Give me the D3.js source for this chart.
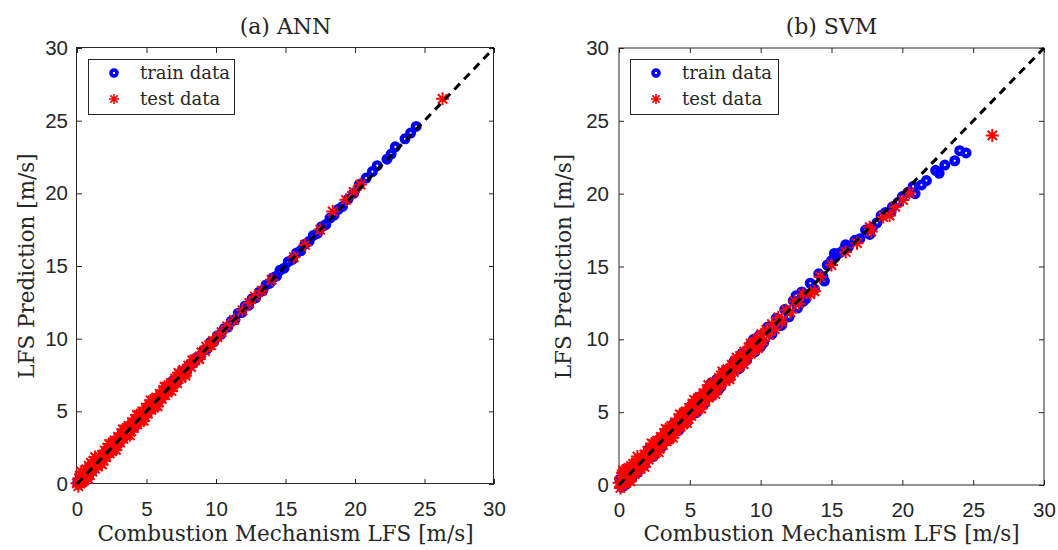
<!DOCTYPE html>
<html>
<head>
<meta charset="utf-8">
<script src="https://cdn.jsdelivr.net/npm/d3@7"></script>
<style>
  body { margin: 0; background: #fff; }
  .tick text { font-family: "Liberation Sans", Arial, sans-serif; font-size: 20.5px; fill: #262626; }
  .tick line { stroke: #262626; }
  .serif { font-family: "DejaVu Serif", serif; fill: #262626; }
</style>
</head>
<body>
<div id="chart"></div>
<script>
// tick values shared by both axes
var ticks = [0, 5, 10, 15, 20, 25, 30];
var panelTitles = ["(a) ANN", "(b) SVM"];
var legendLabels = ["train data", "test data"];

// ANN panel: [target, prediction]
var annTrain = [
  [0.05,0.1],[0.2,0.35],[0.35,0.1],[0.5,0.7],[0.7,0.45],[0.9,1.2],[1.1,0.9],[1.3,1.6],[1.5,1.3],[1.8,1.9],
  [2.1,2.3],[2.4,2.2],[2.7,2.9],[3.0,2.8],[3.3,3.5],[3.6,3.5],[3.9,4.1],[4.2,4.0],[4.5,4.7],[4.8,4.7],
  [5.1,5.3],[5.4,5.2],[5.7,5.9],[6.0,5.85],[6.3,6.5],[6.6,6.45],[6.9,7.1],[7.2,7.05],[7.5,7.7],[7.8,7.7],
  [8.1,8.2],[8.35,8.3],[8.6,8.7],[8.85,8.8],[9.1,9.2],[9.35,9.3],[9.6,9.75],[9.85,9.8],[10.1,10.2],[10.35,10.3],
  [10.6,10.7],[10.85,10.8],[11.1,11.2],[11.35,11.3],[11.6,11.75],[11.85,11.8],[12.1,12.25],[12.35,12.3],[12.6,12.75],[12.85,12.8],
  [13.1,13.2],[13.35,13.3],[13.6,13.7],[13.85,13.8],[14.1,14.2],[14.35,14.3],[14.6,14.7],[14.9,14.85],[15.2,15.3],[15.5,15.45],
  [15.8,15.9],[16.1,16.05],[16.4,16.5],[16.7,16.7],[17.0,17.1],[17.3,17.25],[17.6,17.7],[17.9,17.85],[18.2,18.3],[18.5,18.5],
  [18.8,18.9],[19.1,19.1],[19.5,19.6],[19.9,20.0],[20.3,20.6],[20.8,21.05],[21.25,21.5],[21.6,21.9],[22.3,22.35],[22.6,22.7],
  [22.9,23.2],[23.6,23.75],[24.0,24.15],[24.4,24.6]
];
var annTest = [
  [0.0,0.05],[0.1,-0.15],[0.15,0.4],[0.25,0.05],[0.3,0.6],[0.4,0.15],[0.5,0.75],[0.55,0.3],[0.65,1.0],[0.75,0.5],
  [0.85,1.25],[0.9,0.65],[1.0,1.45],[1.1,0.85],[1.2,1.6],[1.3,1.05],[1.4,1.75],[1.5,1.2],[1.6,1.85],[1.7,1.4],
  [1.8,2.0],[1.9,1.6],[2.0,2.3],[2.1,1.85],[2.2,2.5],[2.35,2.1],[2.45,2.75],[2.6,2.35],[2.7,3.0],[2.85,2.6],
  [2.95,3.25],[3.1,2.85],[3.2,3.5],[3.35,3.1],[3.45,3.75],[3.6,3.35],[3.7,4.0],[3.85,3.6],[3.95,4.25],[4.1,3.85],
  [4.2,4.5],[4.35,4.1],[4.45,4.75],[4.6,4.35],[4.7,5.0],[4.85,4.6],[4.95,5.25],[5.1,4.85],[5.2,5.5],[5.35,5.1],
  [5.45,5.75],[5.6,5.35],[5.7,5.95],[5.85,5.6],[5.95,6.2],[6.1,5.85],[6.2,6.45],[6.35,6.1],[6.45,6.7],[6.6,6.4],
  [6.75,6.95],[6.9,6.65],[7.05,7.25],[7.2,6.95],[7.35,7.55],[7.5,7.3],[7.65,7.85],[7.8,7.6],[8.0,8.15],[8.2,8.05],
  [8.45,8.55],[8.7,8.65],[8.95,9.05],[9.2,9.15],[9.5,9.55],[9.8,9.85],[10.1,10.1],[10.4,10.45],[10.8,10.85],[11.3,11.3],
  [11.9,11.95],[12.4,12.45],[12.8,12.9],[13.3,13.3],[14.0,14.05],[15.6,15.6],[16.4,16.45],[17.5,17.5],[18.4,18.75],[19.35,19.55],
  [19.9,20.1],[20.4,20.6],[26.3,26.5],
  [0.3,0.85],[0.8,0.35],[1.3,1.85],[1.8,1.35],[2.3,2.75],[2.8,2.35],[3.3,3.75],[3.8,3.35],[4.3,4.75],[4.8,4.35],
  [5.3,5.75],[5.8,5.35],[6.3,6.7],[6.8,6.4],[7.3,7.65],[7.8,7.45],[8.3,8.5],[8.8,8.6],[9.3,9.45],[9.65,9.55]
];

// SVM panel: [target, prediction]
var svmTrain = [
  [0.05,0.4],[0.2,-0.15],[0.35,0.75],[0.5,0.05],[0.7,1.05],[0.9,0.45],[1.1,1.45],[1.3,0.85],[1.5,1.85],[1.8,1.4],
  [2.1,2.45],[2.4,1.95],[2.7,3.05],[3.0,2.6],[3.3,3.65],[3.6,3.15],[3.9,4.25],[4.2,3.75],[4.5,4.85],[4.8,4.35],
  [5.1,5.45],[5.4,4.95],[5.7,6.05],[6.0,5.55],[6.3,6.65],[6.6,6.15],[6.9,7.25],[7.2,6.75],[7.5,7.85],[7.8,7.35],
  [8.1,8.45],[8.4,7.95],[8.7,9.05],[9.0,8.55],[9.3,9.65],[9.6,9.15],[9.9,10.25],[10.2,9.75],[10.5,10.85],[10.8,10.35],
  [11.1,11.45],[11.4,10.95],[11.7,12.05],[12.0,11.55],[12.3,12.65],[12.6,12.15],[12.9,13.25],[13.2,12.8],[13.5,13.85],[13.8,13.45],
  [14.1,14.5],[14.4,14.3],[14.7,15.1],[15.0,15.4],[15.3,15.7],[15.6,15.95],[15.9,16.2],[16.2,16.35],[16.65,16.8],[17.0,16.9],
  [17.4,17.5],[17.7,17.2],[17.9,17.7],[18.2,18.0],[18.5,18.5],[18.8,18.7],[19.2,18.75],[19.3,19.1],[19.7,19.4],[20.0,19.8],
  [20.4,20.1],[20.76,20.5],[20.9,20.0],[21.35,20.6],[21.7,20.9],[22.35,21.6],[22.6,21.4],[23.0,21.96],[23.7,22.26],[24.05,22.95],
  [24.5,22.8],
  [5.5,5.0],[7.0,6.5],[8.5,8.0],[10.0,9.5],[11.5,11.0],[13.0,12.6],[14.5,14.0],[6.5,7.0],[9.5,10.0],[12.5,13.0],
  [15.2,15.9],[16.0,16.5]
];
var svmTest = [
  [0.0,0.15],[0.1,-0.2],[0.15,0.55],[0.25,-0.05],[0.3,0.85],[0.4,0.15],[0.5,1.05],[0.55,0.3],[0.65,1.15],[0.75,0.45],
  [0.85,1.3],[0.9,0.6],[1.0,1.45],[1.1,0.75],[1.2,1.55],[1.3,0.9],[1.4,1.7],[1.5,1.1],[1.6,1.85],[1.7,1.3],
  [1.8,2.1],[1.9,1.55],[2.0,2.35],[2.1,1.75],[2.2,2.55],[2.35,2.0],[2.45,2.8],[2.6,2.25],[2.7,3.05],[2.85,2.5],
  [2.95,3.3],[3.1,2.75],[3.2,3.55],[3.35,3.0],[3.45,3.8],[3.6,3.25],[3.7,4.05],[3.85,3.5],[3.95,4.3],[4.1,3.75],
  [4.2,4.55],[4.35,4.0],[4.45,4.8],[4.6,4.25],[4.7,5.05],[4.85,4.5],[4.95,5.3],[5.1,4.75],[5.2,5.55],[5.35,5.0],
  [5.45,5.8],[5.6,5.25],[5.7,6.05],[5.85,5.5],[5.95,6.3],[6.1,5.75],[6.2,6.55],[6.35,6.0],[6.45,6.8],[6.6,6.25],
  [6.75,7.05],[6.9,6.55],[7.05,7.35],[7.2,6.85],[7.35,7.65],[7.5,7.15],[7.65,7.95],[7.8,7.45],[7.95,8.25],[8.1,7.75],
  [8.25,8.55],[8.4,8.05],[8.55,8.85],[8.7,8.35],[8.85,9.15],[9.0,8.7],[9.15,9.45],[9.3,9.0],[9.45,9.75],[9.6,9.3],
  [9.75,10.05],[9.9,9.6],[10.05,10.35],[10.2,9.9],[10.4,10.65],[10.6,10.3],[10.8,11.05],[11.0,10.7],[11.25,11.5],[11.5,11.2],
  [11.8,12.0],[12.1,11.85],[12.4,12.6],[12.7,12.45],[13.0,13.1],[13.5,13.1],[13.8,13.3],[14.2,14.3],[15.0,15.1],[16.0,16.0],
  [16.8,16.6],[17.7,17.7],[17.8,17.4],[18.65,18.4],[19.1,18.5],[19.5,19.1],[20.05,19.56],[20.5,20.06],[26.35,24.0],
  [0.3,1.0],[0.8,0.25],[1.3,1.95],[1.8,1.25],[2.3,2.85],[2.8,2.25],[3.3,3.85],[3.8,3.25],[4.3,4.85],[4.8,4.25],
  [5.3,5.85],[5.8,5.25],[6.3,6.85],[6.8,6.25],[7.3,7.8],[7.8,7.25],[8.3,8.75],[8.8,8.3],[9.3,9.7],[9.8,9.4]
];

var width = 1058, height = 550;

var svg = d3.select("#chart").append("svg")
    .attr("width", width)
    .attr("height", height);

// asterisk marker like matlab '*'
function starPath(s) {
    var d = s * 0.72;
    return "M" + (-s) + ",0L" + s + ",0M0," + (-s) + "L0," + s +
        "M" + (-d) + "," + (-d) + "L" + d + "," + d +
        "M" + (-d) + "," + d + "L" + d + "," + (-d);
}

function drawPanel(p) {
    var x = d3.scaleLinear().domain([0, 30]).range([p.left, p.right]);
    var y = d3.scaleLinear().domain([0, 30]).range([p.bottom, p.top]);
    var g = svg.append("g");

    // box
    g.append("rect")
        .attr("x", p.left + p.off)
        .attr("y", p.top + p.off)
        .attr("width", p.right - p.left)
        .attr("height", p.bottom - p.top)
        .attr("fill", "none")
        .attr("stroke", "#262626")
        .attr("stroke-width", 1);

    // axes with inward ticks
    g.append("g")
        .attr("transform", "translate(0," + p.bottom + ")")
        .call(d3.axisBottom(x).tickValues(ticks).tickSizeInner(-5).tickSizeOuter(0).tickPadding(17))
        .call(function(a) { a.select(".domain").remove(); });
    g.append("g")
        .attr("transform", "translate(0," + p.top + ")")
        .call(d3.axisTop(x).tickValues(ticks).tickSizeInner(-5).tickSizeOuter(0).tickFormat(""))
        .call(function(a) { a.select(".domain").remove(); });
    g.append("g")
        .attr("transform", "translate(" + p.left + ",0)")
        .call(d3.axisLeft(y).tickValues(ticks).tickSizeInner(-5).tickSizeOuter(0).tickPadding(p.pad))
        .call(function(a) { a.select(".domain").remove(); });
    g.append("g")
        .attr("transform", "translate(" + p.right + ",0)")
        .call(d3.axisRight(y).tickValues(ticks).tickSizeInner(-5).tickSizeOuter(0).tickFormat(""))
        .call(function(a) { a.select(".domain").remove(); });

    // train data
    g.append("g").selectAll("circle")
        .data(p.train)
        .enter().append("circle")
        .attr("cx", function(d) { return x(d[0]); })
        .attr("cy", function(d) { return y(d[1]); })
        .attr("r", 3.3)
        .attr("fill", "none")
        .attr("stroke", "#0000ff")
        .attr("stroke-width", 4.4);

    // test data
    g.append("g").selectAll("path")
        .data(p.test)
        .enter().append("path")
        .attr("transform", function(d) { return "translate(" + x(d[0]) + "," + y(d[1]) + ")"; })
        .attr("d", starPath(6.5))
        .attr("fill", "none")
        .attr("stroke", "#ff0000")
        .attr("stroke-width", 2);

    // y = x reference
    g.append("line")
        .attr("x1", x(0)).attr("y1", y(0))
        .attr("x2", x(30)).attr("y2", y(30))
        .attr("stroke", "#000")
        .attr("stroke-width", 3)
        .attr("stroke-dasharray", "8,6");

    // title
    g.append("text")
        .attr("class", "serif")
        .attr("x", (p.left + p.right) / 2)
        .attr("y", 34)
        .attr("text-anchor", "middle")
        .style("font-size", "22px")
        .text(p.title);

    // x label
    g.append("text")
        .attr("class", "serif")
        .attr("x", (p.left + p.right) / 2)
        .attr("y", 541)
        .attr("text-anchor", "middle")
        .style("font-size", "21.5px")
        .text("Combustion Mechanism LFS [m/s]");

    // y label
    g.append("text")
        .attr("class", "serif")
        .attr("transform", "translate(" + p.ylab + "," + ((p.top + p.bottom) / 2) + ") rotate(-90)")
        .attr("text-anchor", "middle")
        .style("font-size", "21.5px")
        .text("LFS Prediction [m/s]");

    // legend
    var lg = g.append("g").attr("transform", "translate(" + p.legX + "," + p.legY + ")");
    lg.append("rect")
        .attr("x", 0.5).attr("y", 0.5)
        .attr("width", p.legW).attr("height", 55)
        .attr("fill", "#fff")
        .attr("stroke", "#262626")
        .attr("stroke-width", 1);
    lg.append("circle")
        .attr("cx", 26).attr("cy", 14)
        .attr("r", 3)
        .attr("fill", "none")
        .attr("stroke", "#0000ff")
        .attr("stroke-width", 3.6);
    lg.append("path")
        .attr("transform", "translate(26,40)")
        .attr("d", starPath(5))
        .attr("fill", "none")
        .attr("stroke", "#ff0000")
        .attr("stroke-width", 1.6);
    lg.selectAll("text.leg")
        .data(legendLabels)
        .enter().append("text")
        .attr("class", "serif leg")
        .attr("x", 52)
        .attr("y", function(d, i) { return 20 + i * 26; })
        .style("font-size", "18px")
        .text(function(d) { return d; });
}

drawPanel({title: panelTitles[0], left: 77, right: 494, top: 48, bottom: 484, off: -0.5,
    pad: 9, ylab: 34, legX: 88, legY: 59, legW: 146, train: annTrain, test: annTest});
drawPanel({title: panelTitles[1], left: 619, right: 1044, top: 48, bottom: 485, off: 0,
    pad: 10, ylab: 571, legX: 630, legY: 59, legW: 148, train: svmTrain, test: svmTest});
</script>
</body>
</html>
